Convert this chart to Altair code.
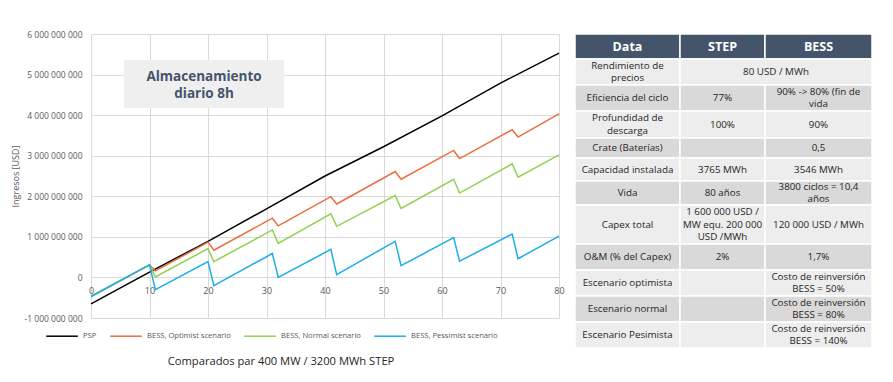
import altair as alt
import pandas as pd

# ---------------- chart data (in billions of USD) ----------------
years_psp = [0, 10, 20, 30, 40, 50, 60, 70, 80]
psp_bn = [-0.65, 0.13, 0.89, 1.69, 2.50, 3.22, 3.98, 4.79, 5.53]

years_bess = [0, 10, 11, 20, 21, 31, 32, 41, 42, 52, 53, 62, 63, 72, 73, 80]
optimist_bn = [-0.47, 0.31, 0.16, 0.87, 0.67, 1.46, 1.27, 1.99, 1.81, 2.61, 2.42, 3.13, 2.93, 3.64, 3.46, 4.03]
normal_bn = [-0.47, 0.31, 0.01, 0.71, 0.39, 1.17, 0.84, 1.57, 1.26, 2.02, 1.70, 2.42, 2.08, 2.80, 2.47, 3.02]
pessimist_bn = [-0.47, 0.31, -0.30, 0.39, -0.20, 0.59, 0.00, 0.69, 0.07, 0.89, 0.29, 0.98, 0.40, 1.07, 0.46, 1.02]

series_names = ["PSP", "BESS, Optimist scenario", "BESS, Normal scenario", "BESS, Pessimist scenario"]
series_colors = ["#000000", "#EE6C3B", "#92D050", "#1AAFEB"]

x_ticks = [0, 10, 20, 30, 40, 50, 60, 70, 80]
y_ticks_bn = [-1, 0, 1, 2, 3, 4, 5, 6]

y_title = "Ingresos [USD]"
annotation_text = "Almacenamiento\ndiario 8h"
caption = "Comparados par 400 MW / 3200 MWh STEP"

# ---------------- table data ----------------
table_header = ["Data", "STEP", "BESS"]
table_rows = [
    ["Rendimiento de\nprecios", "80 USD / MWh", None],
    ["Eficiencia del ciclo", "77%", "90% -> 80% (fin de\nvida"],
    ["Profundidad de\ndescarga", "100%", "90%"],
    ["Crate (Baterías)", "", "0,5"],
    ["Capacidad instalada", "3765 MWh", "3546 MWh"],
    ["Vida", "80 años", "3800 ciclos = 10,4\naños"],
    ["Capex total", "1 600 000 USD /\nMW equ. 200 000\nUSD /MWh", "120 000 USD / MWh"],
    ["O&M (% del Capex)", "2%", "1,7%"],
    ["Escenario optimista", "", "Costo de reinversión\nBESS = 50%"],
    ["Escenario normal", "", "Costo de reinversión\nBESS = 80%"],
    ["Escenario Pesimista", "", "Costo de reinversión\nBESS = 140%"],
]

# ---------------- layout ----------------
PLOT_W, PLOT_H = 468, 284
COL_W = [105, 85, 107]
ROW_H = [25, 26, 26, 27, 20, 23, 24, 39, 26, 26, 26, 26]
LH = 12.5
GRID = "#D9D9D9"
AXIS_TXT = "#595959"

# ---------------- line chart ----------------
frames = []
for name, xs, ys in [
    (series_names[0], years_psp, psp_bn),
    (series_names[1], years_bess, optimist_bn),
    (series_names[2], years_bess, normal_bn),
    (series_names[3], years_bess, pessimist_bn),
]:
    frames.append(pd.DataFrame({"year": xs, "value": [v * 1e9 for v in ys], "series": name}))

y_ticks = [v * 1e9 for v in y_ticks_bn]
y_dom = [y_ticks[0], y_ticks[-1]]
zero_offset = -PLOT_H * (0 - y_dom[0]) / (y_dom[1] - y_dom[0])

x_enc = alt.X(
    "year:Q",
    scale=alt.Scale(domain=[x_ticks[0], x_ticks[-1]], nice=False, zero=False),
    axis=alt.Axis(
        values=x_ticks, title=None, grid=True, gridColor=GRID, gridWidth=1,
        domain=False, ticks=False, tickSize=0, labelPadding=9, offset=zero_offset,
        labelFontSize=9, labelColor=AXIS_TXT, labelFlush=False,
    ),
)
y_enc = alt.Y(
    "value:Q",
    scale=alt.Scale(domain=y_dom, nice=False, zero=False),
    axis=alt.Axis(
        values=y_ticks, title=y_title, grid=True, gridColor=GRID, gridWidth=1,
        domain=False, ticks=False, tickSize=0, labelPadding=9,
        labelFontSize=8.5, labelColor=AXIS_TXT,
        labelExpr="replace(replace(format(datum.value, ',.0f'), regexp(',', 'g'), ' '), '\u2212', '-')",
        titleFontSize=9, titleFontWeight="normal", titleColor=AXIS_TXT, titlePadding=4,
    ),
)
color_scale = alt.Scale(domain=series_names, range=series_colors)
legend = alt.Legend(
    orient="none", legendX=-46, legendY=285, direction="horizontal", title=None,
    symbolType="stroke", symbolSize=1000, symbolStrokeWidth=1.5,
    labelFontSize=7.6, labelColor=AXIS_TXT, columnPadding=10, padding=0, labelOffset=4,
)

line_layers = []
for df in frames:
    line_layers.append(
        alt.Chart(df).mark_line(strokeWidth=1.5).encode(
            x=x_enc, y=y_enc,
            color=alt.Color("series:N", scale=color_scale, legend=legend),
        )
    )

one = pd.DataFrame({"t": [annotation_text]})
box = alt.Chart(one).mark_rect(color="#EFEFEF").encode(
    x=alt.value(33), x2=alt.value(193), y=alt.value(26), y2=alt.value(74)
)
box_text = alt.Chart(one).mark_text(
    fontSize=13.5, fontWeight="bold", color="#44546A", lineBreak="\n", lineHeight=17,
    align="center", baseline="middle",
).encode(text="t:N", x=alt.value(113), y=alt.value(51 - 17 / 2))

cap = alt.Chart(pd.DataFrame({"t": [caption]})).mark_text(
    fontSize=11.2, color="#262626", align="center", baseline="middle"
).encode(text="t:N", x=alt.value(190), y=alt.value(328))

left = alt.layer(box, box_text, *line_layers, cap).properties(width=PLOT_W, height=PLOT_H)

# ---------------- table chart ----------------
cells = []
all_rows = [table_header] + table_rows
y_cursor = 0
for r, row in enumerate(all_rows):
    h = ROW_H[r]
    c = 0
    while c < len(row):
        end = c
        while end + 1 < len(row) and row[end + 1] is None:
            end += 1
        x0 = sum(COL_W[:c])
        x1 = sum(COL_W[: end + 1])
        if r == 0:
            fill = "#44546A"
        elif r % 2 == 1:
            fill = "#EDEDED"
        else:
            fill = "#D9D9D9"
        n_lines = row[c].count("\n") + 1
        cells.append({
            "x0": x0, "x1": x1, "y0": y_cursor, "y1": y_cursor + h,
            "xc": (x0 + x1) / 2, "yc": y_cursor + h / 2 - (n_lines - 1) * LH / 2,
            "text": row[c], "fill": fill, "header": r == 0,
        })
        c = end + 1
    y_cursor += h
cells_df = pd.DataFrame(cells)

tx = alt.Scale(domain=[0, sum(COL_W)], nice=False, zero=False)
ty = alt.Scale(domain=[0, sum(ROW_H)], nice=False, zero=False, reverse=True)

rects = alt.Chart(cells_df).mark_rect(stroke="white", strokeWidth=1.5).encode(
    x=alt.X("x0:Q", scale=tx, axis=None), x2="x1:Q",
    y=alt.Y("y0:Q", scale=ty, axis=None), y2="y1:Q",
    color=alt.Color("fill:N", scale=None),
)
head_txt = alt.Chart(cells_df[cells_df["header"]]).mark_text(
    fontSize=12.5, fontWeight="bold", color="white", align="center", baseline="middle"
).encode(x=alt.X("xc:Q", scale=tx, axis=None), y=alt.Y("yc:Q", scale=ty, axis=None), text="text:N")
body_txt = alt.Chart(cells_df[~cells_df["header"]]).mark_text(
    fontSize=9.8, color="#262626", align="center", baseline="middle", lineBreak="\n", lineHeight=LH
).encode(x=alt.X("xc:Q", scale=tx, axis=None), y=alt.Y("yc:Q", scale=ty, axis=None), text="text:N")

table = alt.layer(rects, head_txt, body_txt).properties(width=sum(COL_W), height=sum(ROW_H))

chart = alt.hconcat(left, table, spacing=16, bounds="flush").properties(
    padding={"top": 22, "left": 3, "right": 5, "bottom": 5}
).configure(font="Open Sans").configure_view(stroke=None)

chart.save("out.html", embed_options={"renderer": "svg", "actions": False})
